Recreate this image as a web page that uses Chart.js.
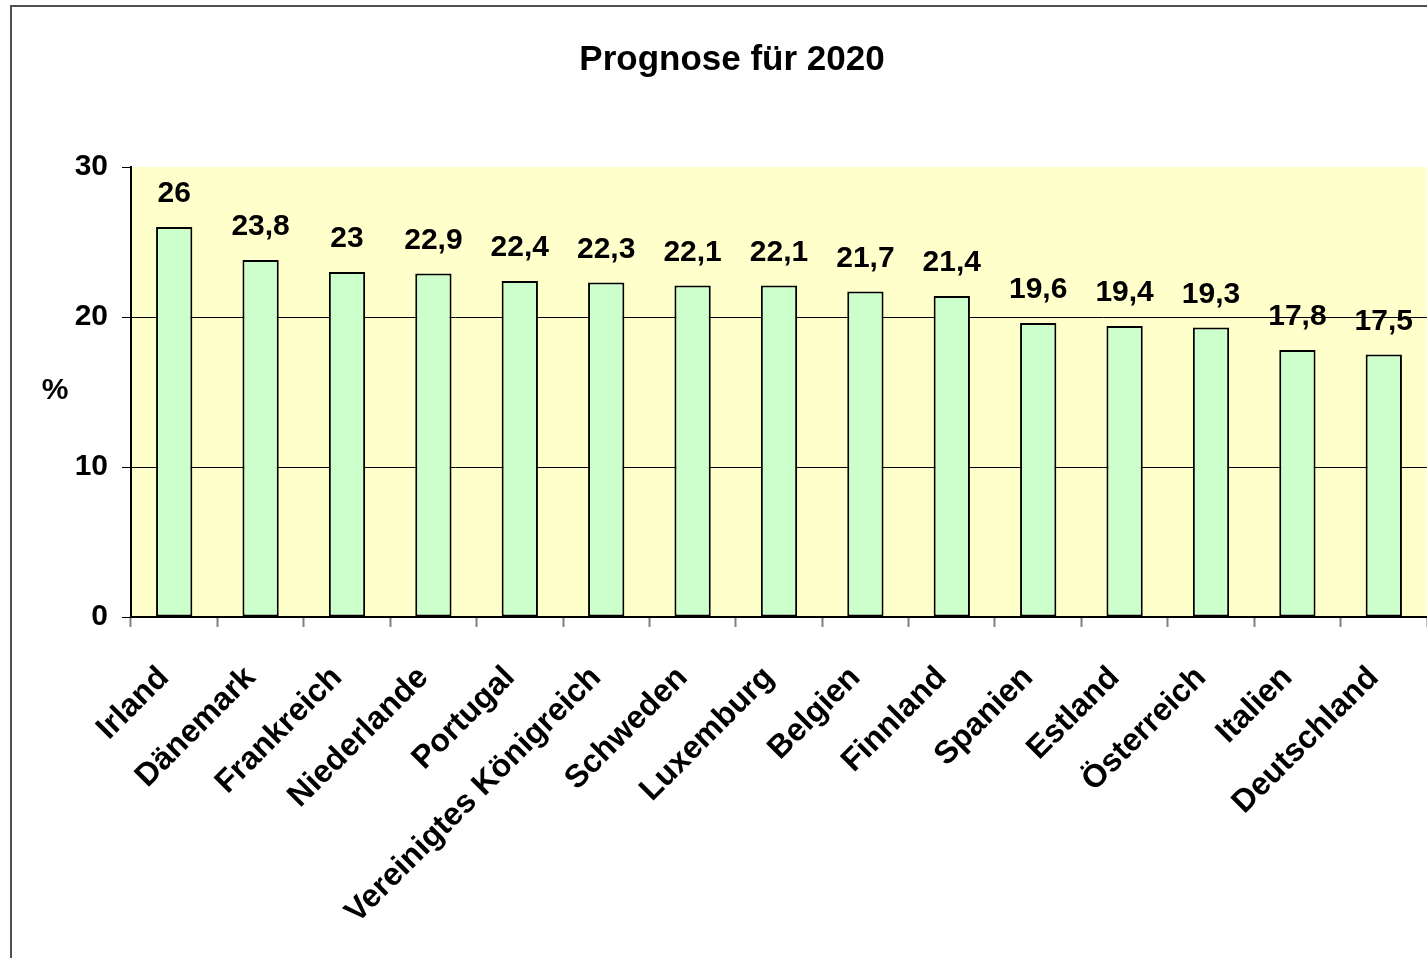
<!DOCTYPE html>
<html>
<head>
<meta charset="utf-8">
<script src="https://cdn.jsdelivr.net/npm/chart.js@4"></script>
<style>
  html, body { margin: 0; padding: 0; background: #fff; }
  #wrap { width: 1427px; height: 958px; position: relative; }
</style>
</head>
<body>
<div id="wrap"><canvas id="prognoseChart"></canvas></div>
<script>
const chartTitle = 'Prognose für 2020';
const yAxisLabel = '%';
const countries = ['Irland', 'Dänemark', 'Frankreich', 'Niederlande', 'Portugal',
  'Vereinigtes Königreich', 'Schweden', 'Luxemburg', 'Belgien', 'Finnland',
  'Spanien', 'Estland', 'Österreich', 'Italien', 'Deutschland'];
const forecast2020 = [26, 23.8, 23, 22.9, 22.4, 22.3, 22.1, 22.1, 21.7, 21.4, 19.6, 19.4, 19.3, 17.8, 17.5];
const yTicks = [0, 10, 20, 30];

const fontFamily = '"Liberation Sans", Arial, sans-serif';

document.addEventListener("DOMContentLoaded", function() {
    // frame, plot background, title, "%" and value labels
    const decorations = {
        id: 'decorations',
        beforeDraw(chart) {
            const ctx = chart.ctx;
            const a = chart.chartArea;
            ctx.save();
            ctx.fillStyle = '#FFFFCC';
            ctx.fillRect(a.left, a.top, a.right - a.left, a.bottom - a.top);
            ctx.restore();
        },
        afterDraw(chart) {
            const ctx = chart.ctx;
            ctx.save();
            ctx.strokeStyle = '#505050';
            ctx.lineWidth = 2;
            ctx.strokeRect(11, 6, 2000, 2000);

            ctx.fillStyle = '#000';
            ctx.textAlign = 'center';
            ctx.textBaseline = 'middle';
            ctx.font = 'bold 35px ' + fontFamily;
            ctx.fillText(chartTitle, 732, 60);

            ctx.font = 'bold 30px ' + fontFamily;
            ctx.fillText(yAxisLabel, 55, 391);

            ctx.textBaseline = 'alphabetic';
            const meta = chart.getDatasetMeta(0);
            meta.data.forEach((bar, i) => {
                const txt = String(forecast2020[i]).replace('.', ',');
                ctx.fillText(txt, bar.x, bar.y - 25);
            });
            ctx.restore();
        }
    };

    const ctx = document.getElementById('prognoseChart').getContext('2d');
    new Chart(ctx, {
        type: 'bar',
        data: {
            labels: countries,
            datasets: [{
                data: forecast2020,
                backgroundColor: '#CCFFCC',
                borderColor: '#000',
                borderWidth: 2,
                borderSkipped: false,
                categoryPercentage: 1,
                barPercentage: 0.42
            }]
        },
        options: {
            responsive: true,
            maintainAspectRatio: false,
            animation: false,
            layout: { padding: { top: 167, left: 0, right: 0, bottom: 0 } },
            plugins: {
                legend: { display: false },
                title: { display: false },
                tooltip: { enabled: false }
            },
            scales: {
                x: {
                    offset: true,
                    grid: {
                        offset: true,
                        drawOnChartArea: false,
                        drawTicks: true,
                        tickLength: 10,
                        tickColor: '#808080',
                        tickWidth: 2
                    },
                    border: { color: '#000', width: 2 },
                    ticks: {
                        color: '#000',
                        font: { family: fontFamily, size: 32, weight: 'bold' },
                        minRotation: 45,
                        maxRotation: 45,
                        autoSkip: false,
                        labelOffset: -10,
                        padding: 32
                    },
                    afterFit(scale) {
                        scale.height = 341;
                        scale.paddingLeft = 0;
                        scale.paddingRight = 0;
                    }
                },
                y: {
                    min: 0,
                    max: 30,
                    afterBuildTicks(scale) {
                        scale.ticks = yTicks.map(v => ({ value: v }));
                    },
                    grid: {
                        color: c => (c.tick && c.tick.value === 30) ? 'rgba(0,0,0,0)' : '#000',
                        lineWidth: 1,
                        tickColor: '#000',
                        tickLength: 9
                    },
                    border: { color: '#000', width: 2 },
                    ticks: {
                        color: '#000',
                        font: { family: fontFamily, size: 30, weight: 'bold' },
                        padding: 14
                    },
                    afterFit(scale) {
                        scale.width = 131;
                    }
                }
            }
        },
        plugins: [decorations]
    });
});
</script>
</body>
</html>
